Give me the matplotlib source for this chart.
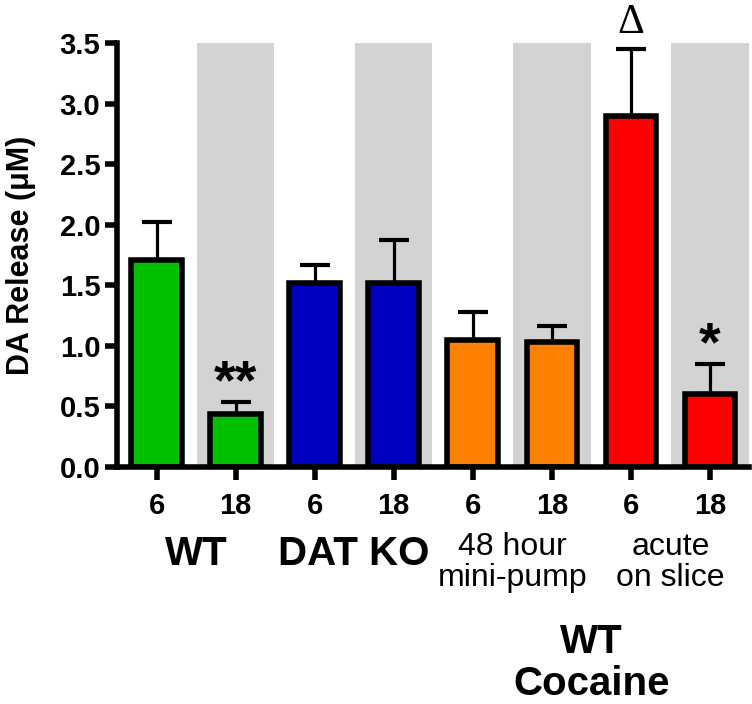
import numpy as np
import matplotlib.pyplot as plt
from matplotlib.transforms import blended_transform_factory

plt.rcParams['font.family'] = ['Liberation Sans', 'DejaVu Sans']

# data
tick_labels = ['6', '18', '6', '18', '6', '18', '6', '18']
means = [1.71, 0.44, 1.52, 1.52, 1.05, 1.03, 2.90, 0.60]
errs = [0.31, 0.10, 0.15, 0.35, 0.23, 0.13, 0.55, 0.25]
colors = ['#00C000', '#00C000', '#0000C0', '#0000C0',
          '#FF8000', '#FF8000', '#FF0000', '#FF0000']
stars = {1: '**', 7: '*'}
groups = ['WT', 'DAT KO']
sub_groups = [('48 hour', 'mini-pump'), ('acute', 'on slice')]

fig = plt.figure(figsize=(7.52, 7.04), dpi=100)
ax = fig.add_axes([0.1556, 0.3366, 0.841, 0.6024])

x = np.arange(len(means))

# gray background bands behind the 18-hour bars
for i in x[1::2]:
    ax.axvspan(i - 0.49, i + 0.49, color='#D3D3D3', lw=0, zorder=0)

ax.bar(x, means, width=0.64, color=colors, edgecolor='black', linewidth=4, zorder=2)
ax.errorbar(x, means, yerr=[np.zeros(len(errs)), errs], fmt='none', ecolor='black',
            elinewidth=2.3, capsize=11, capthick=3, zorder=1)

for i, s in stars.items():
    ax.text(i, means[i] + errs[i] + 0.03, s, ha='center', va='baseline',
            fontsize=40, fontweight='bold')
ax.text(6, means[6] + errs[6] + 0.13, '\u0394', ha='center', va='baseline',
        fontsize=30, family=['Liberation Serif', 'DejaVu Serif'], clip_on=False)

ax.set_xlim(-0.5, 7.5)
ax.set_ylim(0, 3.5)
yt = np.arange(0, 3.6, 0.5)
ax.set_yticks(yt)
ax.set_yticklabels([f'{v:.1f}' for v in yt])
ax.set_xticks(x)
ax.set_xticklabels(tick_labels)
for lab in ax.get_xticklabels() + ax.get_yticklabels():
    lab.set_fontweight('bold')
    lab.set_fontsize(21)
ax.tick_params(axis='both', width=4, length=9)
ax.tick_params(axis='x', pad=9)
ax.tick_params(axis='y', pad=3)

for s in ['top', 'right']:
    ax.spines[s].set_visible(False)
for s in ['left', 'bottom']:
    ax.spines[s].set_linewidth(4)

ax.set_ylabel('DA Release (\u03bcM)', fontsize=22, fontweight='bold')
ax.yaxis.set_label_coords(-0.128, 0.5)

# group labels under the axis (x in data, y in figure)
tr = blended_transform_factory(ax.transData, fig.transFigure)
for k, g in enumerate(groups):
    ax.text(2 * k + 0.5, 1 - 565 / 704, g, transform=tr, ha='center', va='baseline',
            fontsize=29, fontweight='bold')
for k, (l1, l2) in enumerate(sub_groups):
    xc = 2 * k + 4.5
    ax.text(xc, 1 - 555 / 704, l1, transform=tr, ha='center', va='baseline', fontsize=23)
    ax.text(xc, 1 - 586 / 704, l2, transform=tr, ha='center', va='baseline', fontsize=23)
ax.text(5.5, 1 - 653 / 704, 'WT', transform=tr, ha='center', va='baseline',
        fontsize=29, fontweight='bold')
ax.text(5.5, 1 - 695 / 704, 'Cocaine', transform=tr, ha='center', va='baseline',
        fontsize=29, fontweight='bold')

fig.savefig('out.png', dpi=100)
